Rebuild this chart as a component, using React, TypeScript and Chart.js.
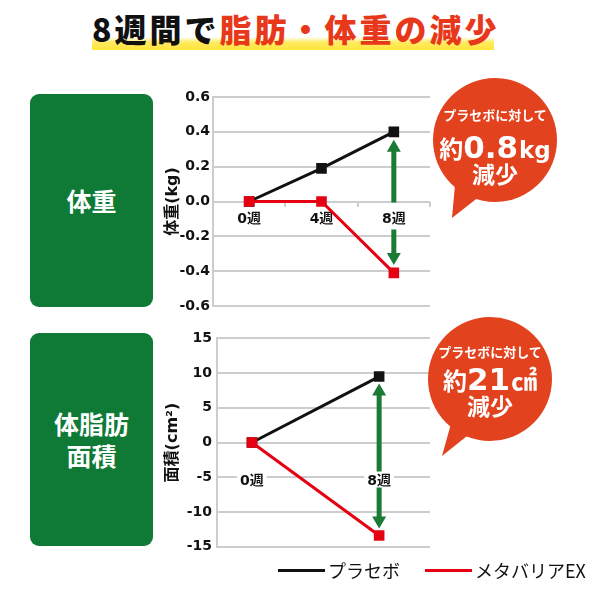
import React, { useEffect, useRef } from "react";
import { Chart, registerables } from "chart.js";

Chart.register(...registerables);

// ---------------- data ----------------
const seriesNames = ["プラセボ", "メタバリアEX"];

const weightWeeks = ["0週", "4週", "8週"];
const weightPlacebo = [0, 0.19, 0.4];
const weightMetabaria = [0, 0, -0.41];
const weightAxisTitle = "体重(kg)";
const weightMin = -0.6;
const weightMax = 0.6;
const weightStep = 0.2;

const fatWeeks = [0, 8];
const fatPlacebo = [0, 9.5];
const fatMetabaria = [0, -13.4];
const fatAxisTitle = "面積(cm²)";
const fatMin = -15;
const fatMax = 15;
const fatStep = 5;

const titleBlack = "8週間で";
const titleRed = "脂肪・体重の減少";
const panelWeight = ["体重"];
const panelFat = ["体脂肪", "面積"];
const bubbleLead = "プラセボに対して";
const bubblePre = "約";
const bubblePost = "減少";
const weightDiffValue = "0.8";
const weightDiffUnit = "kg";
const fatDiffValue = "21";
const fatDiffUnit = "㎠";

// ---------------- styles ----------------
const BLACK = "#111111";
const RED = "#e50012";
const ARROW = "#1b7a34";
const GRID = "#cdcdcd";
const PANEL = "#0e7a36";
const BUBBLE = "#e2421d";
const TITLE_RED = "#e8381b";
const FONT_NUM = '"DejaVu Sans", "Noto Sans CJK JP", sans-serif';
const FONT_JP = '"Noto Sans CJK JP", "Noto Sans", sans-serif';

const diffArrow = {
  id: "diffArrow",
  afterDatasetsDraw(chart: any, _args: any, opts: any) {
    const a = chart.getDatasetMeta(0).data;
    const b = chart.getDatasetMeta(1).data;
    const pa = a[a.length - 1];
    const pb = b[b.length - 1];
    const x = pa.x;
    const top = Math.min(pa.y, pb.y) + opts.inset;
    const bot = Math.max(pa.y, pb.y) - opts.inset;
    const zero = chart.scales.y.getPixelForValue(0);
    const g1 = zero + opts.gapStart;
    const g2 = zero + opts.gapEnd;
    const hl = opts.headLength;
    const hw = opts.headWidth / 2;
    const sw = opts.shaft;
    const ctx = chart.ctx;
    ctx.save();
    ctx.fillStyle = opts.color;
    ctx.fillRect(x - sw / 2, top + hl - 1, sw, g1 - (top + hl - 1));
    ctx.fillRect(x - sw / 2, g2, sw, bot - hl + 1 - g2);
    ctx.beginPath();
    ctx.moveTo(x, top);
    ctx.lineTo(x + hw, top + hl);
    ctx.lineTo(x - hw, top + hl);
    ctx.closePath();
    ctx.fill();
    ctx.beginPath();
    ctx.moveTo(x, bot);
    ctx.lineTo(x + hw, bot - hl);
    ctx.lineTo(x - hw, bot - hl);
    ctx.closePath();
    ctx.fill();
    ctx.restore();
  },
};

function dataset(label: string, data: any[], color: string, order: number) {
  return {
    label,
    data,
    borderColor: color,
    backgroundColor: color,
    borderWidth: 3,
    pointStyle: "rect",
    pointRadius: 7.5,
    pointBorderWidth: 0,
    pointBackgroundColor: color,
    tension: 0,
    order,
  };
}

function buildOptions(p: any) {
  return {
    responsive: false,
    animation: false,
    events: [],
    layout: { padding: { top: p.padTop, bottom: p.padBottom, right: p.padRight, left: 0 } },
    plugins: {
      legend: { display: false },
      tooltip: { enabled: false },
      diffArrow: p.arrow,
    },
    scales: {
      x: p.x,
      y: {
        min: p.min,
        max: p.max,
        afterFit: (s: any) => {
          s.width = p.yWidth;
        },
        ticks: {
          stepSize: p.step,
          callback: p.fmt,
          font: { family: FONT_NUM, size: 14, weight: "bold" },
          color: BLACK,
          padding: p.yTickPad,
        },
        grid: { color: GRID, lineWidth: 2, drawTicks: false },
        border: { display: true, color: GRID, width: 2 },
        title: {
          display: true,
          text: p.title,
          font: { family: FONT_NUM, size: 16, weight: "bold" },
          color: BLACK,
          padding: { top: 3, bottom: 0 },
        },
      },
    },
  };
}

const xLabelFont = { family: FONT_NUM, size: 14, weight: "bold" };

function WeightChart() {
  const ref = useRef<HTMLCanvasElement>(null);
  useEffect(() => {
    const chart = new Chart(ref.current as HTMLCanvasElement, {
      type: "line",
      data: {
        labels: weightWeeks,
        datasets: [
          dataset(seriesNames[0], weightPlacebo, BLACK, 1),
          dataset(seriesNames[1], weightMetabaria, RED, 0),
        ],
      },
      options: buildOptions({
        padTop: 12,
        padBottom: 14,
        padRight: 10,
        min: weightMin,
        max: weightMax,
        step: weightStep,
        fmt: (v: any) => Number(v).toFixed(1),
        yWidth: 53,
        yTickPad: 3,
        title: weightAxisTitle,
        arrow: { color: ARROW, inset: 8, gapStart: 1, gapEnd: 28, headLength: 12, headWidth: 14, shaft: 5 },
        x: {
          type: "category",
          position: { y: 0 },
          offset: true,
          z: 1,
          grid: { offset: true, drawOnChartArea: false, drawTicks: true, tickLength: 5, color: GRID, lineWidth: 2 },
          border: { display: false },
          ticks: {
            padding: 4,
            font: xLabelFont,
            color: BLACK,
            showLabelBackdrop: true,
            backdropColor: "#ffffff",
            backdropPadding: { x: 3, y: 1 },
          },
        },
      }) as any,
      plugins: [diffArrow],
    });
    return () => chart.destroy();
  }, []);
  return (
    <canvas
      ref={ref}
      width={280}
      height={235}
      style={{ position: "absolute", left: 160, top: 85, width: 280, height: 235 }}
    />
  );
}

function FatChart() {
  const ref = useRef<HTMLCanvasElement>(null);
  useEffect(() => {
    const toPts = (ys: number[]) => fatWeeks.map((w, i) => ({ x: w, y: ys[i] }));
    const chart = new Chart(ref.current as HTMLCanvasElement, {
      type: "line",
      data: {
        datasets: [
          dataset(seriesNames[0], toPts(fatPlacebo), BLACK, 1),
          dataset(seriesNames[1], toPts(fatMetabaria), RED, 0),
        ],
      },
      options: buildOptions({
        padTop: 13,
        padBottom: 13,
        padRight: 10,
        min: fatMin,
        max: fatMax,
        step: fatStep,
        fmt: (v: any) => String(v),
        yWidth: 57,
        yTickPad: 5,
        title: fatAxisTitle,
        arrow: { color: ARROW, inset: 7, gapStart: 29, gapEnd: 45, headLength: 12, headWidth: 14, shaft: 5 },
        x: {
          type: "linear",
          position: { y: 0 },
          min: -2.2,
          max: 11.2,
          z: 1,
          afterBuildTicks: (s: any) => {
            s.ticks = fatWeeks.map((v) => ({ value: v }));
          },
          grid: { drawOnChartArea: false, drawTicks: false },
          border: { display: false },
          ticks: {
            padding: 30,
            callback: (v: any) => `${v}週`,
            font: xLabelFont,
            color: BLACK,
            showLabelBackdrop: true,
            backdropColor: "#ffffff",
            backdropPadding: { x: 3, y: 1 },
          },
        },
      }) as any,
      plugins: [diffArrow],
    });
    return () => chart.destroy();
  }, []);
  return (
    <canvas
      ref={ref}
      width={280}
      height={235}
      style={{ position: "absolute", left: 160, top: 325, width: 280, height: 235 }}
    />
  );
}

function Panel({ top, lines }: { top: number; lines: string[] }) {
  return (
    <div
      style={{
        position: "absolute",
        left: 30,
        top,
        width: 123,
        height: 213,
        borderRadius: 9,
        background: PANEL,
        color: "#fff",
        display: "flex",
        flexDirection: "column",
        alignItems: "center",
        justifyContent: "center",
        fontFamily: FONT_JP,
        fontWeight: 700,
        fontSize: 25,
        lineHeight: "31.5px",
      }}
    >
      {lines.map((l) => (
        <div key={l}>{l}</div>
      ))}
    </div>
  );
}

function BubbleText({ cx, t1, t2, t3, value, unit }: any) {
  const base: any = {
    position: "absolute",
    left: cx - 70,
    width: 140,
    textAlign: "center",
    color: "#fff",
    fontWeight: 700,
    whiteSpace: "nowrap",
  };
  return (
    <>
      <div style={{ ...base, top: t1, fontFamily: FONT_JP, fontSize: 13, lineHeight: "13px" }}>{bubbleLead}</div>
      <div
        style={{
          ...base,
          top: t2,
          display: "flex",
          justifyContent: "center",
          alignItems: "baseline",
        }}
      >
        <span style={{ fontFamily: FONT_JP, fontSize: 24, lineHeight: 1 }}>{bubblePre}</span>
        <span style={{ fontFamily: FONT_NUM, fontSize: 31, lineHeight: 1, letterSpacing: 0 }}>{value}</span>
        <span
          style={{
            fontFamily: unit === "kg" ? FONT_NUM : FONT_JP,
            fontSize: unit === "kg" ? 23 : 26,
            lineHeight: 1,
            marginLeft: 1,
          }}
        >
          {unit}
        </span>
      </div>
      <div style={{ ...base, top: t3, fontFamily: FONT_JP, fontSize: 23, lineHeight: "23px" }}>{bubblePost}</div>
    </>
  );
}

export default function App() {
  return (
    <div
      style={{
        position: "absolute",
        left: 0,
        top: 0,
        width: 600,
        height: 590,
        background: "#fff",
        overflow: "hidden",
        fontFamily: FONT_JP,
      }}
    >
      {/* title */}
      <div
        style={{
          position: "absolute",
          left: 92,
          top: 37,
          width: 402,
          height: 13,
          background:
            "linear-gradient(to bottom, rgba(255,230,60,0), rgba(255,232,70,0.85) 40%, #ffe43a 100%)",
        }}
      />
      <div
        style={{
          position: "absolute",
          left: 92,
          top: 12,
          fontSize: 32,
          lineHeight: "32px",
          fontWeight: 900,
          letterSpacing: 3,
          whiteSpace: "nowrap",
          fontFamily: FONT_JP,
        }}
      >
        <span style={{ color: BLACK }}>{titleBlack}</span>
        <span style={{ color: TITLE_RED }}>{titleRed}</span>
      </div>

      <Panel top={94} lines={panelWeight} />
      <Panel top={333} lines={panelFat} />

      <WeightChart />
      <FatChart />

      <svg
        width={600}
        height={590}
        style={{ position: "absolute", left: 0, top: 0, pointerEvents: "none" }}
      >
        <circle cx={495} cy={140} r={62} fill={BUBBLE} />
        <polygon points="455,185 452,218 480,196" fill={BUBBLE} />
        <circle cx={490} cy={379} r={62} fill={BUBBLE} />
        <polygon points="452,420 442,456 472,432" fill={BUBBLE} />
      </svg>
      <BubbleText cx={495} t1={108} t2={132} t3={162} value={weightDiffValue} unit={weightDiffUnit} />
      <BubbleText cx={490} t1={345} t2={364} t3={394} value={fatDiffValue} unit={fatDiffUnit} />

      {/* legend */}
      {[0, 1].map((i) => (
        <div
          key={i}
          style={{
            position: "absolute",
            left: i === 0 ? 278 : 425,
            top: 559,
            height: 22,
            display: "flex",
            alignItems: "center",
            fontFamily: FONT_JP,
            fontSize: 18,
            color: BLACK,
            whiteSpace: "nowrap",
          }}
        >
          <span
            style={{
              display: "inline-block",
              width: 47,
              height: 3,
              background: i === 0 ? BLACK : RED,
              marginRight: 3,
            }}
          />
          <span>{seriesNames[i]}</span>
        </div>
      ))}
    </div>
  );
}
